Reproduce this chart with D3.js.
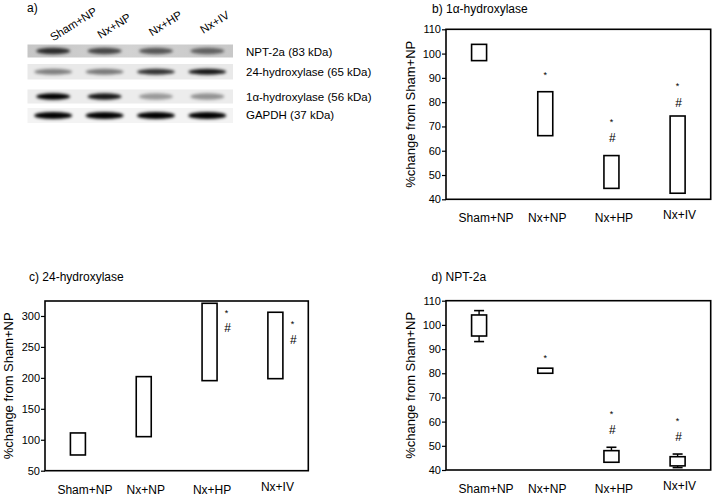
<!DOCTYPE html>
<html>
<head>
<meta charset="utf-8">
<script src="https://cdn.jsdelivr.net/npm/d3@7"></script>
<style>
  html, body { margin: 0; padding: 0; background: #fff; }
  svg { display: block; font-family: "Liberation Sans", Arial, sans-serif; }
</style>
</head>
<body>
<svg id="chart" width="715" height="497"></svg>
<script>
// ---------------- DATA ----------------
const groups = ["Sham+NP", "Nx+NP", "Nx+HP", "Nx+IV"];

// Western blot (panel a)
const blotProteins = ["NPT-2a (83 kDa)", "24-hydroxylase (65 kDa)", "1α-hydroxylase (56 kDa)", "GAPDH (37 kDa)"];
const bandNPT2a = [0.78, 0.66, 0.58, 0.52];
const band24OHase = [0.45, 0.48, 0.78, 0.9];
const band1aOHase = [1.0, 0.9, 0.35, 0.38];
const bandGAPDH = [1.0, 1.0, 1.0, 1.0];

// Panel b: 1α-hydroxylase (% of Sham+NP)
const ohase1aLow = [97.1, 66.2, 44.5, 42.5];
const ohase1aHigh = [103.8, 84.3, 58.0, 74.3];
const ticks1a = [40, 50, 60, 70, 80, 90, 100, 110];
const marks1a = [
  { group: "Nx+NP", symbol: "*", value: 92.5 },
  { group: "Nx+HP", symbol: "*", value: 73.0 },
  { group: "Nx+HP", symbol: "#", value: 65.2 },
  { group: "Nx+IV", symbol: "*", value: 87.8 },
  { group: "Nx+IV", symbol: "#", value: 79.7 }
];

// Panel c: 24-hydroxylase
const ohase24Low = [75.4, 105, 195.5, 198.7];
const ohase24High = [111, 202, 320.5, 306];
const ticks24 = [50, 100, 150, 200, 250, 300];
const marks24 = [
  { group: "Nx+HP", symbol: "*", value: 309.7 },
  { group: "Nx+HP", symbol: "#", value: 280.1 },
  { group: "Nx+IV", symbol: "*", value: 291.9 },
  { group: "Nx+IV", symbol: "#", value: 262.3 }
];

// Panel d: NPT-2a (box + whiskers)
const nptBoxLow = [95.4, 80.0, 43.2, 41.7];
const nptBoxHigh = [104.1, 82.1, 48.0, 45.5];
const nptWhiskerLow = [93.1, 80.0, 43.2, 41.0];
const nptWhiskerHigh = [105.9, 82.1, 49.4, 46.6];
const ticksNpt = [40, 50, 60, 70, 80, 90, 100, 110];
const marksNpt = [
  { group: "Nx+NP", symbol: "*", value: 87.5 },
  { group: "Nx+HP", symbol: "*", value: 64.4 },
  { group: "Nx+HP", symbol: "#", value: 56.5 },
  { group: "Nx+IV", symbol: "*", value: 61.6 },
  { group: "Nx+IV", symbol: "#", value: 53.8 }
];

// ---------------- DRAW ----------------
const svg = d3.select("#chart");
const FONT_TICK = 11, FONT_CAT = 12, FONT_TITLE = 12, FONT_YT = 13;

// ---- Panel a: western blot ----
(function drawBlot() {
  const g = svg.append("g");
  const defs = svg.append("defs");
  defs.append("filter").attr("id", "blur").attr("x", "-50%").attr("y", "-100%").attr("width", "200%").attr("height", "300%")
    .append("feGaussianBlur").attr("stdDeviation", 1.6);
  const bg = defs.append("linearGradient").attr("id", "bg1");
  bg.append("stop").attr("offset", "0%").attr("stop-color", "#c6c6c6");
  bg.append("stop").attr("offset", "50%").attr("stop-color", "#d2d2d2");
  bg.append("stop").attr("offset", "100%").attr("stop-color", "#c8c8c8");

  g.append("text").attr("x", 27).attr("y", 12).attr("font-size", 12).text("a)");

  const x = d3.scaleBand().domain(groups).range([27.5, 233]);
  const rows = [
    { top: 44.5, h: 13, fill: "url(#bg1)", dens: bandNPT2a, ry: 3.2, rx: 17 },
    { top: 64, h: 15.5, fill: "#e9e9e9", dens: band24OHase, ry: 3.0, rx: 19 },
    { top: 89.5, h: 14, fill: "#ececec", dens: band1aOHase, ry: 3.2, rx: 17 },
    { top: 108, h: 15, fill: "#f3f3f3", dens: bandGAPDH, ry: 3.6, rx: 19 }
  ];
  const labelBaselines = [55.5, 75.5, 100.5, 119];
  rows.forEach((r, i) => {
    g.append("rect").attr("x", x.range()[0]).attr("y", r.top)
      .attr("width", x.range()[1] - x.range()[0]).attr("height", r.h).attr("fill", r.fill);
    g.selectAll(null).data(groups).enter().append("ellipse")
      .attr("cx", d => x(d) + x.bandwidth() / 2)
      .attr("cy", r.top + r.h / 2)
      .attr("rx", r.rx).attr("ry", r.ry)
      .attr("fill", "#000")
      .attr("fill-opacity", (d, j) => r.dens[j])
      .attr("filter", "url(#blur)");
    g.append("text").attr("x", 246).attr("y", labelBaselines[i])
      .attr("font-size", 11.5).text(blotProteins[i]);
  });
  // lane labels
  g.selectAll(null).data(groups).enter().append("text")
    .attr("font-size", 11.5)
    .attr("transform", (d, i) => {
      const lx = x(d) + x.bandwidth() / 2 - (i === 0 ? 0 : 4);
      const ly = 41.5 - i * 2.5;
      return `translate(${lx},${ly}) rotate(-32)`;
    })
    .text(d => d);
})();

// ---- generic panel ----
function drawPanel(cfg) {
  const [x0, y0, x1, y1] = cfg.frame;
  const g = svg.append("g");
  const x = d3.scaleBand().domain(groups).range([x0, x1]);
  const y = d3.scaleLinear().domain(cfg.domain).range([y1, y0]);
  const cx = d => x(d) + x.bandwidth() / 2;

  g.append("text").attr("x", cfg.titlePos[0]).attr("y", cfg.titlePos[1])
    .attr("font-size", FONT_TITLE).text(cfg.title);

  // y axis
  const ax = g.append("g").attr("transform", `translate(${x0},0)`)
    .call(d3.axisLeft(y).tickValues(cfg.ticks).tickSize(4).tickPadding(1).tickFormat(d3.format("d")));
  ax.select(".domain").remove();
  ax.selectAll("line").attr("stroke", "#000").attr("stroke-width", 1.2);
  ax.selectAll("text").attr("font-size", FONT_TICK).attr("font-family", "Liberation Sans, Arial, sans-serif").attr("fill", "#000");

  // y title
  g.append("text")
    .attr("transform", `translate(${cfg.ytitleX},${(y0 + y1) / 2}) rotate(-90)`)
    .attr("text-anchor", "middle").attr("dominant-baseline", "central")
    .attr("font-size", FONT_YT).text("%change from Sham+NP");

  // frame
  g.append("rect").attr("x", x0).attr("y", y0).attr("width", x1 - x0).attr("height", y1 - y0)
    .attr("fill", "none").attr("stroke", "#000").attr("stroke-width", 1.6);

  // category labels
  const nudgeX = [7, 2, 2.5, 2];
  const nudgeY = [0, 0, 0, -3];
  g.selectAll(null).data(groups).enter().append("text")
    .attr("x", (d, i) => cx(d) + nudgeX[i])
    .attr("y", (d, i) => y1 + 23 + nudgeY[i])
    .attr("text-anchor", "middle").attr("font-size", FONT_CAT).text(d => d);

  const bw = 15;
  // whiskers
  if (cfg.wLow) {
    const capW = 10;
    groups.forEach((gname, i) => {
      const c = cx(gname);
      [[cfg.wHigh[i], cfg.high[i]], [cfg.wLow[i], cfg.low[i]]].forEach(([w, b]) => {
        if (Math.abs(w - b) < 0.05) return;
        g.append("line").attr("x1", c).attr("x2", c).attr("y1", y(w)).attr("y2", y(b))
          .attr("stroke", "#000").attr("stroke-width", 1.4);
        g.append("line").attr("x1", c - capW / 2).attr("x2", c + capW / 2).attr("y1", y(w)).attr("y2", y(w))
          .attr("stroke", "#000").attr("stroke-width", 1.6);
      });
    });
  }
  // boxes
  g.selectAll(null).data(groups).enter().append("rect")
    .attr("x", d => cx(d) - bw / 2)
    .attr("y", (d, i) => y(cfg.high[i]))
    .attr("width", bw)
    .attr("height", (d, i) => y(cfg.low[i]) - y(cfg.high[i]))
    .attr("fill", "#fff").attr("stroke", "#000").attr("stroke-width", 1.6);

  // significance marks
  g.selectAll(null).data(cfg.marks).enter().append("text")
    .attr("x", d => cx(d.group) + cfg.markDx + (d.symbol === "#" ? 1 : 0))
    .attr("y", d => y(d.value) + (d.symbol === "*" ? 5.8 : 4.2))
    .attr("text-anchor", "middle")
    .attr("font-size", d => d.symbol === "*" ? 9 : 12)
    .text(d => d.symbol);
}

drawPanel({
  title: "b) 1α-hydroxylase", titlePos: [432, 13],
  frame: [446, 29.3, 710.7, 199.3], domain: [40, 110], ticks: ticks1a,
  low: ohase1aLow, high: ohase1aHigh, marks: marks1a, markDx: 0, ytitleX: 410
});
drawPanel({
  title: "c) 24-hydroxylase", titlePos: [29, 281],
  frame: [45, 301, 308.3, 470.7], domain: [50, 324.2], ticks: ticks24,
  low: ohase24Low, high: ohase24High, marks: marks24, markDx: 17, ytitleX: 8
});
drawPanel({
  title: "d) NPT-2a", titlePos: [431.5, 281],
  frame: [446, 300.7, 710.7, 470], domain: [40, 110], ticks: ticksNpt,
  low: nptBoxLow, high: nptBoxHigh, wLow: nptWhiskerLow, wHigh: nptWhiskerHigh,
  marks: marksNpt, markDx: 0, ytitleX: 410
});
</script>
</body>
</html>
